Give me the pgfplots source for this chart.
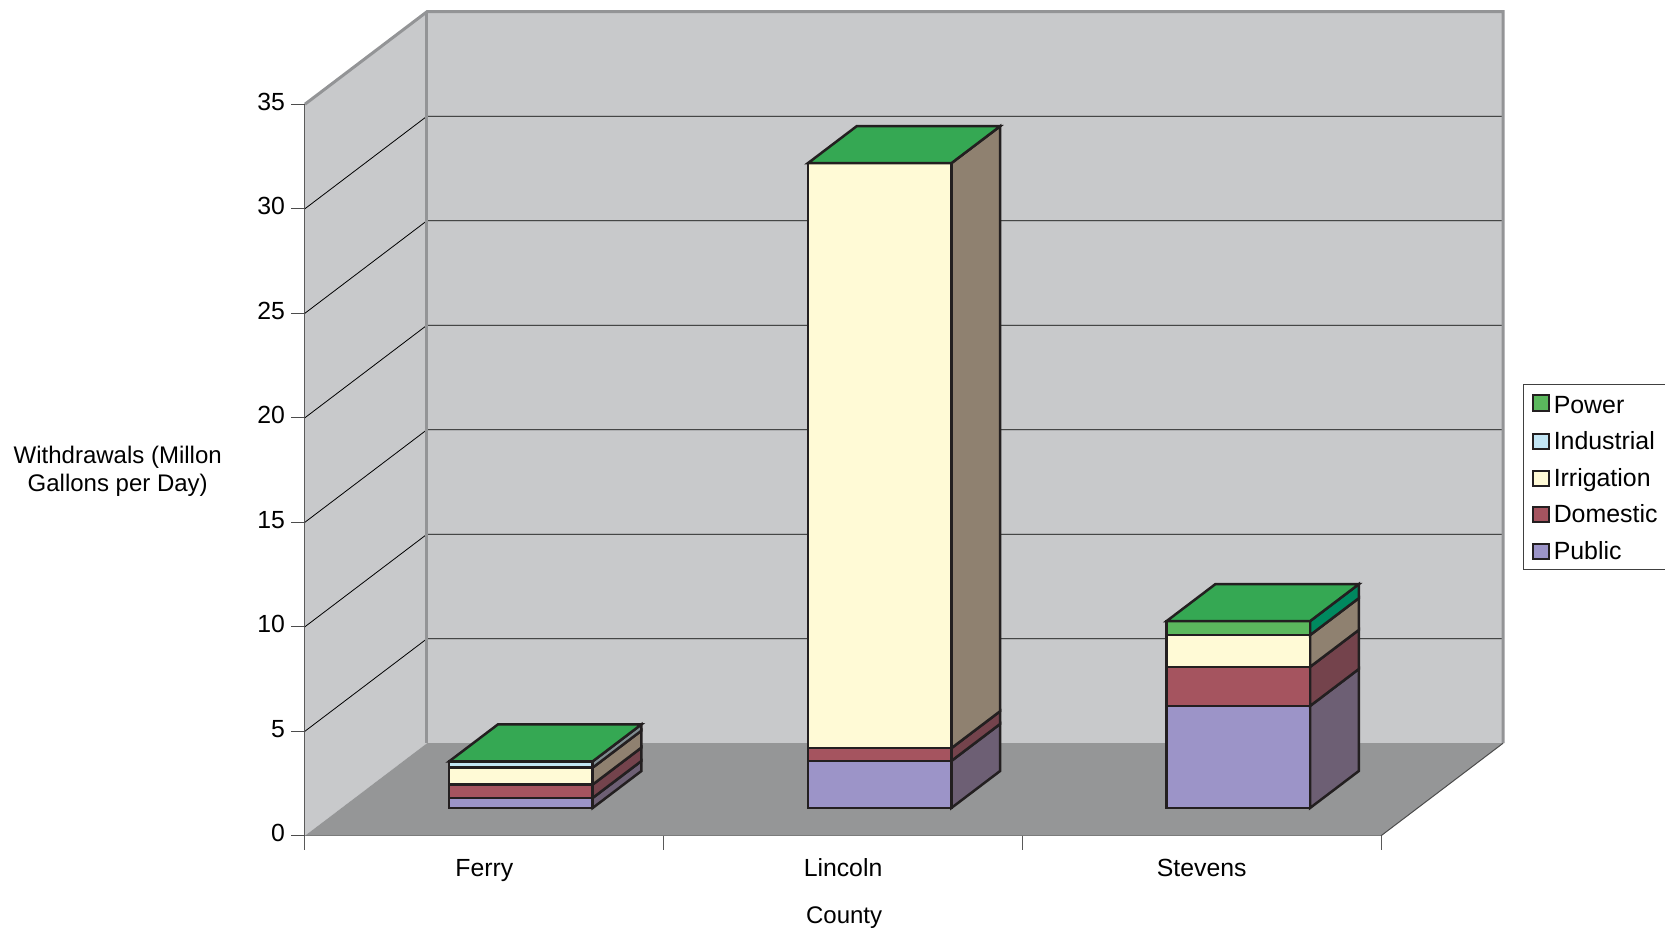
\documentclass[border=0pt]{standalone}
\usepackage{pgfplots}
\pgfplotsset{compat=1.18}
\usepackage{fontspec}
\setmainfont{Liberation Sans}

% Fill colours: front faces, side faces and the wall/floor panels
\definecolor{wall}{HTML}{C8C9CB}
\definecolor{floorc}{HTML}{959697}
\definecolor{wallline}{HTML}{939496}
\definecolor{outline}{HTML}{231F20}
\definecolor{pubF}{HTML}{9C94C8}\definecolor{pubS}{HTML}{6D5F74}
\definecolor{domF}{HTML}{A5545F}\definecolor{domS}{HTML}{74434C}
\definecolor{irrF}{HTML}{FFFAD6}\definecolor{irrS}{HTML}{8F8170}
\definecolor{indF}{HTML}{C3E6F5}\definecolor{indS}{HTML}{7F8C90}
\definecolor{powF}{HTML}{5BB85D}\definecolor{powS}{HTML}{00895F}
\definecolor{powT}{HTML}{35A853}

% One stacked segment: category start, lower and upper value, front and side colour
\newcommand{\seg}[5]{%
  \addplot3[forget plot,mark=none,fill=#5,draw=outline,line width=1.25pt]
    coordinates {(#1+0.7,0.3,#2)(#1+0.7,0.7,#2)(#1+0.7,0.7,#3)(#1+0.7,0.3,#3)} --cycle;
  \addplot3[forget plot,mark=none,fill=#4,draw=outline,line width=1.25pt]
    coordinates {(#1+0.3,0.3,#2)(#1+0.7,0.3,#2)(#1+0.7,0.3,#3)(#1+0.3,0.3,#3)} --cycle;
}
% Top lid of a stack
\newcommand{\lid}[2]{%
  \addplot3[forget plot,mark=none,fill=powT,draw=outline,line width=1.25pt]
    coordinates {(#1+0.3,0.3,#2)(#1+0.7,0.3,#2)(#1+0.7,0.7,#2)(#1+0.3,0.7,#2)} --cycle;
}
% One horizontal gridline along the left and back walls, with its tick at the front edge
\newcommand{\gridat}[1]{%
  \addplot3[forget plot,mark=none,draw=black,line width=0.4pt]
    coordinates {(0,0,#1)(0,1,#1)(3,1,#1)};
}
\newcommand{\ztickat}[1]{%
  \addplot3[forget plot,mark=none,draw=black!70,line width=0.5pt]
    coordinates {(-0.039,0,#1)(0,0,#1)};
}
\newcommand{\xtickat}[1]{%
  \addplot3[forget plot,mark=none,draw=black!65,line width=0.5pt]
    coordinates {(#1,0,0)(#1,0,-0.67)};
}
\newcommand{\legtext}[1]{\makebox[58pt][l]{#1}}

\begin{document}
\begin{tikzpicture}
\fontsize{12}{14}\selectfont
\begin{axis}[
  at={(0pt,0pt)},anchor=origin,
  x={(179.35pt,0pt)},y={(61pt,46.25pt)},z={(0pt,10.45pt)},
  xmin=0,xmax=3,ymin=0,ymax=1,zmin=0,zmax=35,
  clip=false,
  axis lines=left,
  axis line style={-,draw=black!70,line width=0.5pt},
  y axis line style={draw=none},
  xtick={0.5,1.5,2.5},xticklabels={Ferry,Lincoln,Stevens},
  ytick=\empty,
  ztick={0,5,...,35},
  major tick length=0pt,
  /pgf/number format/assume math mode=true,
  tick label style={font=\fontsize{12.4}{14}\selectfont},
  x tick label style={anchor=north,yshift=-7pt,text height=9pt,text depth=2.6pt},
  z tick label style={anchor=east,xshift=-5.8pt,yshift=1.5pt,text height=9pt,text depth=0pt},
  label style={font=\fontsize{12.2}{13.4}\selectfont},
  xlabel={County},
  zlabel={Withdrawals (Millon\\Gallons per Day)},
  every axis x label/.style={at={(axis cs:1.503,0,-3.94)},anchor=center},
  every axis z label/.style={at={(axis cs:-0.522,0,17.45)},anchor=center,align=center},
  legend style={at={(axis cs:3.396,0,21.6)},anchor=north west,
    draw=black!75,line width=0.4pt,fill=white,
    font=\fontsize{12.45}{14}\selectfont,
    row sep=3.45pt,inner xsep=4.1pt,inner ysep=1pt},
  legend cell align=left,
  legend image code/.code={\draw[#1,draw=outline,line width=1pt] (0pt,-3.4pt) rectangle (8pt,4.2pt);},
]
% Left wall, back wall and floor
\addplot3[forget plot,mark=none,fill=wall,draw=none] coordinates {(0,0,0)(0,1,0)(0,1,35)(0,0,35)} --cycle;
\addplot3[forget plot,mark=none,fill=wall,draw=none] coordinates {(0,1,0)(3,1,0)(3,1,35)(0,1,35)} --cycle;
\gridat{5}\gridat{10}\gridat{15}\gridat{20}\gridat{25}\gridat{30}
\addplot3[forget plot,mark=none,fill=floorc,draw=none] coordinates {(0,0,0)(3,0,0)(3,1,0)(0,1,0)} --cycle;
\addplot3[forget plot,mark=none,draw=wallline,line width=1.5pt] coordinates {(0,0,35)(0,1,35)(3,1,35)(3,1,0)};
\addplot3[forget plot,mark=none,draw=wallline,line width=1.5pt] coordinates {(0,1,35)(0,1,0)};
\addplot3[forget plot,mark=none,draw=black!70,line width=0.5pt] coordinates {(3,0,0)(3,1,0)};
% Ferry
\seg{0}{0}{0.48}{pubF}{pubS}
\seg{0}{0.48}{1.12}{domF}{domS}
\seg{0}{1.12}{1.93}{irrF}{irrS}
\seg{0}{1.93}{2.23}{indF}{indS}
\lid{0}{2.23}
% Lincoln
\seg{1}{0}{2.25}{pubF}{pubS}
\seg{1}{2.25}{2.86}{domF}{domS}
\seg{1}{2.86}{30.85}{irrF}{irrS}
\lid{1}{30.85}
% Stevens
\seg{2}{0}{4.88}{pubF}{pubS}
\seg{2}{4.88}{6.75}{domF}{domS}
\seg{2}{6.75}{8.27}{irrF}{irrS}
\seg{2}{8.27}{8.94}{powF}{powS}
\lid{2}{8.94}
% Tick marks outside the frame
\xtickat{0}\xtickat{1}\xtickat{2}\xtickat{3}
\ztickat{0}\ztickat{5}\ztickat{10}\ztickat{15}\ztickat{20}\ztickat{25}\ztickat{30}\ztickat{35}
% Legend
\addlegendimage{fill=powF}\addlegendentry{\legtext{\rule{0pt}{11.3pt}Power}}
\addlegendimage{fill=indF}\addlegendentry{\legtext{Industrial}}
\addlegendimage{fill=irrF}\addlegendentry{\legtext{Irrigation}}
\addlegendimage{fill=domF}\addlegendentry{\legtext{Domestic}}
\addlegendimage{fill=pubF}\addlegendentry{\legtext{Public}}
\end{axis}
\pgfresetboundingbox
\path[use as bounding box] (-152.5pt,-47.65pt) rectangle (680pt,417.85pt);
\end{tikzpicture}
\end{document}
